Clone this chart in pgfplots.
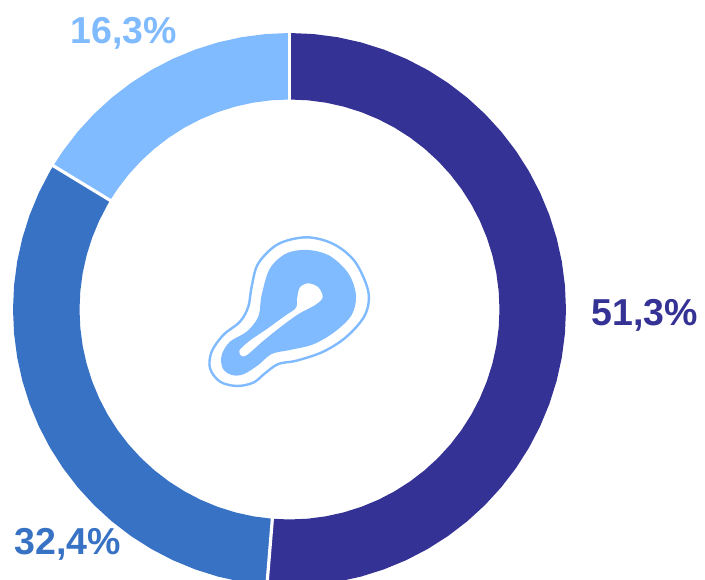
\documentclass[border=0pt]{standalone}
\usepackage{pgfplots}
\pgfplotsset{compat=1.18}
\usepgfplotslibrary{polar}
\usepackage{fontspec}
\setmainfont{Liberation Sans}
\definecolor{cdark}{HTML}{353295}
\definecolor{cmid}{HTML}{3772C4}
\definecolor{clight}{HTML}{80BAFF}
\begin{document}
\begin{tikzpicture}[x=1pt,y=1pt]
\path[use as bounding box] (0,0) rectangle (705,580);
\clip (0,0) rectangle (705,580);
\begin{polaraxis}[
  at={(289.5pt,270.5pt)},anchor=center,
  scale only axis,width=600pt,height=600pt,
  xmin=0,xmax=360,ymin=0,ymax=300,
  hide axis,clip=false]
% 51.3 %
\addplot[draw=none,fill=cdark] coordinates {
(90,276.5)(85,276.5)(80,276.5)(75,276.5)(70,276.5)(65,276.5)(60,276.5)(55,276.5)(50,276.5)(45,276.5)
(40,276.5)(35,276.5)(30,276.5)(25,276.5)(20,276.5)(15,276.5)(10,276.5)(5,276.5)(0,276.5)
(355,276.5)(350,276.5)(345,276.5)(340,276.5)(335,276.5)(330,276.5)(325,276.5)(320,276.5)(315,276.5)
(310,276.5)(305,276.5)(300,276.5)(295,276.5)(290,276.5)(285,276.5)(280,276.5)(275,276.5)(270,276.5)(265.32,276.5)
(265.32,210)(270,210)(275,210)(280,210)(285,210)(290,210)(295,210)(300,210)(305,210)(310,210)
(315,210)(320,210)(325,210)(330,210)(335,210)(340,210)(345,210)(350,210)(355,210)
(0,210)(5,210)(10,210)(15,210)(20,210)(25,210)(30,210)(35,210)(40,210)(45,210)
(50,210)(55,210)(60,210)(65,210)(70,210)(75,210)(80,210)(85,210)(90,210)} -- cycle;
% 32.4 %
\addplot[draw=none,fill=cmid] coordinates {
(265.32,276.5)(260,276.5)(255,276.5)(250,276.5)(245,276.5)(240,276.5)(235,276.5)(230,276.5)(225,276.5)(220,276.5)
(215,276.5)(210,276.5)(205,276.5)(200,276.5)(195,276.5)(190,276.5)(185,276.5)(180,276.5)(175,276.5)(170,276.5)
(165,276.5)(160,276.5)(155,276.5)(150,276.5)(148.68,276.5)
(148.68,210)(150,210)(155,210)(160,210)(165,210)(170,210)(175,210)(180,210)(185,210)(190,210)
(195,210)(200,210)(205,210)(210,210)(215,210)(220,210)(225,210)(230,210)(235,210)(240,210)
(245,210)(250,210)(255,210)(260,210)(265.32,210)} -- cycle;
% 16.3 %
\addplot[draw=none,fill=clight] coordinates {
(148.68,276.5)(145,276.5)(140,276.5)(135,276.5)(130,276.5)(125,276.5)(120,276.5)(115,276.5)(110,276.5)(105,276.5)
(100,276.5)(95,276.5)(90,276.5)
(90,210)(95,210)(100,210)(105,210)(110,210)(115,210)(120,210)(125,210)(130,210)(135,210)(140,210)(145,210)(148.68,210)} -- cycle;
% separators
\addplot[white,line width=3.2pt] coordinates {(90,205)(90,282)};
\addplot[white,line width=3.2pt] coordinates {(265.32,205)(265.32,282)};
\addplot[white,line width=3.2pt] coordinates {(148.68,205)(148.68,282)};
\end{polaraxis}
\begin{scope}[shift={(190,360)},x=0.3333pt,y=-0.3333pt]
\draw[clight,line width=2.4pt] plot[smooth cycle,tension=0.55] coordinates {
(350,52)(430,72)(495,125)(535,215)(525,285)(470,350)(400,395)(320,422)(265,432)(225,460)(190,488)(140,498)(90,485)(60,445)(65,395)(100,345)(150,305)(175,260)(185,200)(205,130)(265,72)};
\fill[clight] plot[smooth cycle,tension=0.55] coordinates {
(355,90)(420,108)(475,160)(498,225)(485,285)(435,335)(370,373)(300,390)(245,402)(205,435)(160,463)(125,465)(98,445)(95,405)(120,365)(170,335)(205,290)(215,225)(240,145)(290,100)};
\fill[white] plot[smooth cycle,tension=0.5] coordinates {
(148,392)(180,362)(230,328)(285,288)(318,264)(322,232)(330,202)(355,190)(385,202)(398,232)(375,255)(325,282)(270,322)(220,362)(172,404)(155,408)};
\end{scope}
\node[text=cdark,inner sep=0pt,font=\fontsize{37.5}{37.5}\selectfont\bfseries] at (644.5,264.5) {51,3\%};
\node[text=cmid,inner sep=0pt,font=\fontsize{37.5}{37.5}\selectfont\bfseries] at (67.5,35.5) {32,4\%};
\node[text=clight,inner sep=0pt,font=\fontsize{37.5}{37.5}\selectfont\bfseries] at (123.5,546.5) {16,3\%};
\end{tikzpicture}
\end{document}
